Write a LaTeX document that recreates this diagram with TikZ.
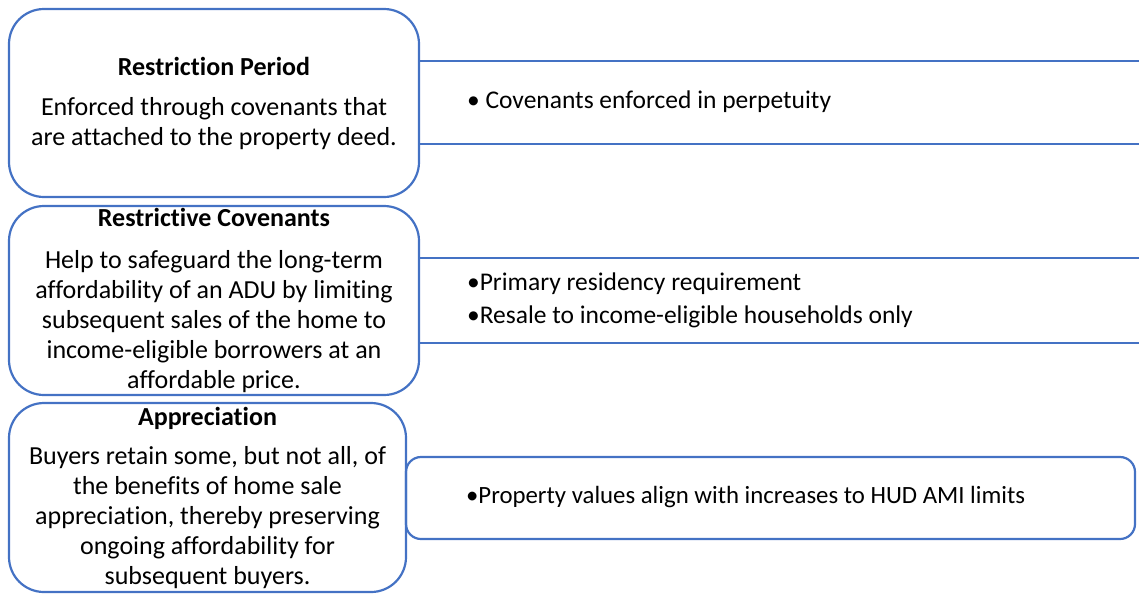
\documentclass[tikz,border=0pt]{standalone}
\usepackage{fontspec}
\setmainfont{Carlito}[Ligatures=NoCommon]
\definecolor{officeblue}{HTML}{4472C4}

\begin{document}
\begin{tikzpicture}[x=1pt,y=-1pt,line width=2.2pt,
  card/.style={draw=officeblue,rounded corners=35pt,align=center,inner sep=0pt,
    font=\fontsize{26}{30}\selectfont},
  band/.style={draw=officeblue,rounded corners=15pt,inner sep=0pt},
  pts/.style={anchor=west,align=left,inner sep=0pt,font=\fontsize{25.5}{33}\selectfont}]
  \useasboundingbox (0,0) rectangle (1139,595);
  % left hand cards
  \node[card,minimum width=410pt,minimum height=188pt] (period) at (214,103)
    {\textbf{Restriction Period}\\[10pt] Enforced through covenants that\\ are attached to the property deed.};
  \node[card,minimum width=410pt,minimum height=189pt] (cov) at (214,300.5)
    {\textbf{Restrictive Covenants}\\[12pt] Help to safeguard the long-term\\ affordability of an ADU by limiting\\
     subsequent sales of the home to\\ income-eligible borrowers at an\\ affordable price.};
  \node[card,minimum width=397pt,minimum height=189pt] (apprec) at (207.5,497.5)
    {\textbf{Appreciation}\\[9pt] Buyers retain some, but not all, of\\ the benefits of home sale\\
     appreciation, thereby preserving\\ ongoing affordability for\\ subsequent buyers.};
  % bands running off to the right
  \coordinate (p1) at (1139,61);  \coordinate (p2) at (1139,144);
  \coordinate (c1) at (1139,258); \coordinate (c2) at (1139,343);
  \draw[officeblue] (period.east |- p1) -- (p1);
  \draw[officeblue] (period.east |- p2) -- (p2);
  \draw[officeblue] (cov.east |- c1) -- (c1);
  \draw[officeblue] (cov.east |- c2) -- (c2);
  \node[band,minimum width=729pt,minimum height=82pt] (aband) at (770.5,498) {};
  % bullet points
  \node[pts] (ptperiod) at (466,102) {\textbullet\ Covenants enforced in perpetuity};
  \node[pts] (ptcov) at (466,300) {\textbullet Primary residency requirement\\ \textbullet Resale to income-eligible households only};
  \node[pts,font=\fontsize{24.8}{33}\selectfont] (ptapprec) at (465,497) {\textbullet Property values align with increases to HUD AMI limits};
\end{tikzpicture}
\end{document}
